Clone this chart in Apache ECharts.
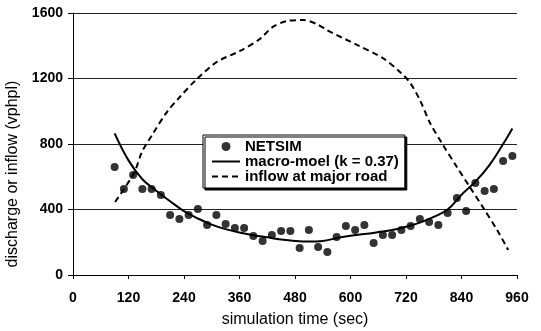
<!DOCTYPE html>
<html>
<head>
<meta charset="utf-8">
<script src="https://cdn.jsdelivr.net/npm/echarts@6/dist/echarts.min.js"></script>
<style>
html,body{margin:0;padding:0;background:#fff;}
#chart{width:541px;height:331px;}
</style>
</head>
<body>
<div id="chart"></div>
<script>
// NETSIM discharge, one point every 20 s
var netsimTime = [90,110,130,150,170,190,210,230,250,270,290,310,330,350,370,390,410,430,450,470,490,510,
                  530,550,570,590,610,630,650,670,690,710,730,750,770,790,810,830,850,870,890,910,930,950];
var netsimFlow = [660,525,611,525,525,489,366,342,366,403,305,366,311,287,287,238,208,244,269,269,165,275,
                  171,140,232,299,275,305,195,244,244,275,299,342,324,305,379,470,391,562,513,525,696,727];

// macro-model curve (k = 0.37)
var modelTime = [90,120,150,180,210,240,270,300,330,360,390,420,450,480,510,540,570,600,630,660,690,720,750,780,810,840,870,900,930,950];
var modelFlow = [865,700,585,515,450,390,345,308,280,260,243,230,217,208,204,208,225,240,250,262,275,295,320,355,400,490,570,670,800,895];

// inflow at major road
var inflowTime = [91,132,149,171,203,231,268,311,361,404,432,463,497,527,549,614,670,707,729,750,772,800,830,858,886,917,941];
var inflowFlow = [446,623,751,855,995,1087,1197,1301,1368,1441,1515,1551,1557,1533,1496,1405,1325,1240,1173,1069,928,794,660,537,415,275,153];

var xTicks = [0,960,120];
var yTicks = [0,1600,400];

function pairs(xs, ys){
    var out = [];
    for(var i=0;i<xs.length;i++){ out.push([xs[i], ys[i]]); }
    return out;
}

var chart = echarts.init(document.getElementById("chart"));
var font = 'Liberation Sans, Arial, sans-serif';
var option = {
    animation: false,
    backgroundColor: '#fff',
    grid: {left: 73, right: 24, top: 13, bottom: 56, outerBoundsMode: 'none', containLabel: false},
    legend: {
        orient: 'vertical',
        left: 203,
        top: 135,
        padding: [4, 6, 4, 8],
        itemGap: 0,
        itemWidth: 28,
        itemHeight: 9,
        backgroundColor: '#fff',
        borderColor: '#000',
        borderWidth: 1,
        shadowColor: '#000',
        shadowOffsetX: 2,
        shadowOffsetY: 2,
        shadowBlur: 0,
        textStyle: {color: '#000', fontFamily: font, fontSize: 15, fontWeight: 'bold', lineHeight: 14},
        data: [
            {name: 'NETSIM', icon: 'circle', itemStyle: {color: '#000'}},
            {name: 'macro-moel (k = 0.37)', itemStyle: {opacity: 0}},
            {name: 'inflow at major road', itemStyle: {opacity: 0}}
        ]
    },
    xAxis: {
        type: 'value',
        min: xTicks[0], max: xTicks[1], interval: xTicks[2],
        name: 'simulation time (sec)',
        nameLocation: 'middle',
        nameGap: 37,
        nameTextStyle: {color: '#000', fontFamily: font, fontSize: 16},
        axisLine: {show: true, onZero: false, lineStyle: {color: '#000', width: 1}},
        axisTick: {show: true, length: 4, lineStyle: {color: '#000'}},
        axisLabel: {color: '#000', fontFamily: font, fontSize: 14, fontWeight: 'bold', margin: 16},
        splitLine: {show: false}
    },
    yAxis: {
        type: 'value',
        min: yTicks[0], max: yTicks[1], interval: yTicks[2],
        name: 'discharge or inflow (vphpl)',
        nameLocation: 'middle',
        nameGap: 51,
        nameTextStyle: {color: '#000', fontFamily: font, fontSize: 16, padding: [0, 60, 0, 0]},
        axisLine: {show: true, lineStyle: {color: '#000', width: 1}},
        axisTick: {show: true, length: 5, lineStyle: {color: '#000'}},
        axisLabel: {color: '#000', fontFamily: font, fontSize: 14, fontWeight: 'bold', margin: 10,
                    formatter: function(v){ return String(v); }},
        splitLine: {show: true, lineStyle: {color: '#222', width: 1}}
    },
    series: [
        {
            name: 'NETSIM',
            type: 'scatter',
            data: pairs(netsimTime, netsimFlow),
            symbol: 'circle',
            symbolSize: 8,
            itemStyle: {color: '#000'},
            z: 4
        },
        {
            name: 'macro-moel (k = 0.37)',
            type: 'line',
            data: pairs(modelTime, modelFlow),
            smooth: 0.4,
            showSymbol: false,
            symbol: 'none',
            itemStyle: {color: '#000'},
            lineStyle: {color: '#000', width: 2},
            z: 3
        },
        {
            name: 'inflow at major road',
            type: 'line',
            data: pairs(inflowTime, inflowFlow),
            smooth: 0.3,
            showSymbol: false,
            symbol: 'none',
            itemStyle: {color: '#000'},
            lineStyle: {color: '#000', width: 2, type: [6, 4]},
            z: 2
        }
    ]
};
chart.setOption(option);
</script>
</body>
</html>
